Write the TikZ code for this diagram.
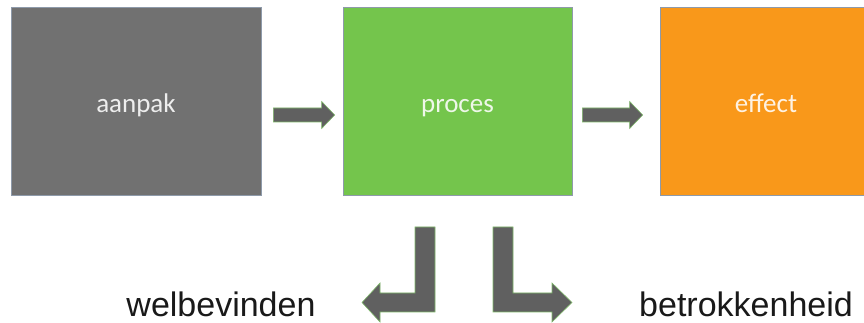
\documentclass[tikz,border=0pt]{standalone}
\usepackage{fontspec}
\newfontfamily\boxfont{Carlito}
\newfontfamily\labfont{Liberation Sans}
\usetikzlibrary{calc,shadows}
\definecolor{boxgray}{HTML}{717171}
\definecolor{boxgreen}{HTML}{74C54C}
\definecolor{boxorange}{HTML}{F9981A}
\definecolor{arrgray}{HTML}{606060}
\definecolor{arredge}{HTML}{7FB86A}
\definecolor{boxedge}{HTML}{8E9AAA}
\tikzset{
  box/.style={draw=boxedge, line width=0.7pt, minimum height=188pt, inner sep=0pt,
    drop shadow={opacity=0.25, shadow xshift=1.2pt, shadow yshift=-1.5pt}},
  boxtxt/.style={text=white, text opacity=0.88, font=\boxfont\fontsize{27}{32}\selectfont, inner sep=0pt},
  labtxt/.style={text=black!90, font=\labfont\fontsize{34}{40}\selectfont, inner sep=0pt},
  blockarrow/.style={fill=arrgray, draw=arredge, line width=0.6pt, line join=miter}
}
\newcommand\hblockarrow[2]{%
  \path[blockarrow] let \p1=(#1), \p2=(#2) in
    (\x1,{\y1+7pt}) -- ({\x2-13pt},{\y1+7pt}) -- ({\x2-13pt},{\y1+13.5pt}) --
    (\x2,\y1) -- ({\x2-13pt},{\y1-13.5pt}) -- ({\x2-13pt},{\y1-7pt}) --
    (\x1,{\y1-7pt}) -- cycle;}
\begin{document}
\begin{tikzpicture}[x=1pt,y=1pt]
\useasboundingbox (0,0) rectangle (864,323);
\clip (0,0) rectangle (864,323);
% boxes
\node[box, fill=boxgray, minimum width=250pt] (aanpak) at (136,222) {};
\node[box, fill=boxgreen, minimum width=229pt] (proces) at (457.5,222) {};
\node[box, fill=boxorange, minimum width=212pt] (effect) at (766,222) {};
\node[boxtxt, anchor=base] (t1) at ([yshift=-12pt]aanpak.center) {aanpak};
\node[boxtxt, anchor=base] (t2) at ([yshift=-12pt]proces.center) {proces};
\node[boxtxt, anchor=base] (t3) at ([yshift=-12pt]effect.center) {effect};
% top arrows
\coordinate (a1s) at ([xshift=12pt,yshift=-14pt]aanpak.east);
\coordinate (a1e) at ([xshift=-8pt,yshift=-14pt]proces.west);
\coordinate (a2s) at ([xshift=10pt,yshift=-14pt]proces.east);
\coordinate (a2e) at ([xshift=-17pt,yshift=-14pt]effect.west);
\hblockarrow{a1s}{a1e}
\hblockarrow{a2s}{a2e}
% bottom labels
\node[labtxt, anchor=base] (wel) at (221,6) {welbevinden};
\node[labtxt, anchor=base] (bet) at (746,6) {betrokkenheid};
% L-shaped arrows
\path[blockarrow] (435,96) -- (435,11) -- (380,11) -- (380,1) -- (362,20.5) -- (380,40) -- (380,30) -- (415,30) -- (415,96) -- cycle;
\path[blockarrow] (493,96) -- (493,11) -- (552,11) -- (552,1) -- (572,20.5) -- (552,40) -- (552,30) -- (513,30) -- (513,96) -- cycle;
\end{tikzpicture}
\end{document}
